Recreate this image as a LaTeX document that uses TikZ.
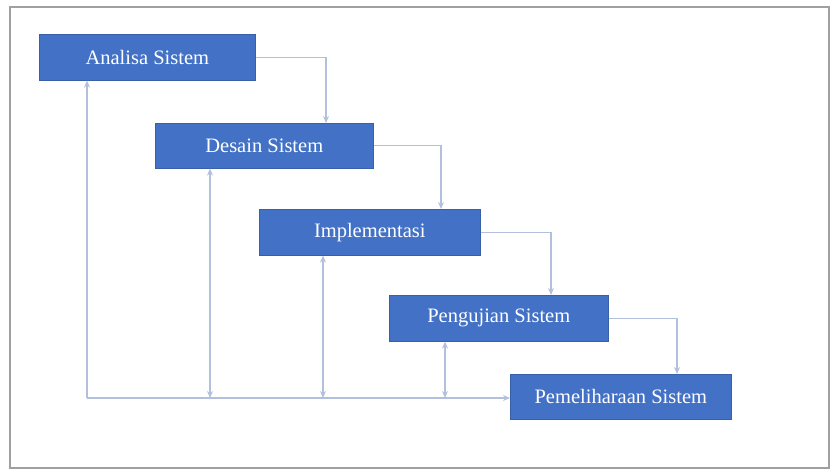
\documentclass[tikz,border=0pt]{standalone}
\usepackage{fontspec}
\setmainfont{Liberation Serif}
\usetikzlibrary{arrows.meta}
\definecolor{boxblue}{RGB}{66,113,198}
\definecolor{linkc}{RGB}{178,192,222}
\definecolor{framec}{RGB}{160,160,160}
\begin{document}
\begin{tikzpicture}[x=1pt,y=-1pt,
  stagebox/.style={fill=boxblue,draw=boxblue!85!black,line width=0.6pt,text=white,
    inner sep=0pt,font=\fontsize{20.5}{24}\selectfont\rmfamily},
  link/.style={draw=linkc,line width=1.4pt,-{Stealth[length=7pt,width=6pt,open,fill=white]}},
  dlink/.style={draw=linkc,line width=1.4pt,{Stealth[length=7pt,width=6pt,open,fill=white]}-{Stealth[length=7pt,width=6pt,open,fill=white]}},
  plain/.style={draw=linkc,line width=1.4pt}]
\useasboundingbox (0,0) rectangle (830,470);
\fill[white] (0,0) rectangle (830,470);
\draw[framec,line width=2pt] (10,7) rectangle (829,468);

\node[stagebox,minimum width=216pt,minimum height=46pt,anchor=north west] (a) at (39,34) {Analisa Sistem};
\node[stagebox,minimum width=218pt,minimum height=45pt,anchor=north west] (d) at (155,123) {Desain Sistem};
\node[stagebox,minimum width=221pt,minimum height=46pt,anchor=north west] (i) at (259,209) {Implementasi};
\node[stagebox,minimum width=219pt,minimum height=46pt,anchor=north west] (p) at (389,295) {Pengujian Sistem};
\node[stagebox,minimum width=221pt,minimum height=45pt,anchor=north west] (m) at (510,374) {Pemeliharaan Sistem};

% forward flow
\draw[link] (a.east) -| (d.north -| 326,0);
\draw[link] (d.east) -| (i.north -| 441,0);
\draw[link] (i.east) -| (p.north -| 551,0);
\draw[link] (p.east) -| (m.north -| 677,0);

% feedback
\coordinate (b0) at (87,398);
\coordinate (b1) at (210,398);
\coordinate (b2) at (323,398);
\coordinate (b3) at (445,398);
\draw[link] (b0) -- (a.south -| b0);
\draw[link] (b0) -- (m.west |- b0);
\draw[dlink] (d.south -| b1) -- (b1);
\draw[dlink] (i.south -| b2) -- (b2);
\draw[dlink] (p.south -| b3) -- (b3);
\end{tikzpicture}
\end{document}
